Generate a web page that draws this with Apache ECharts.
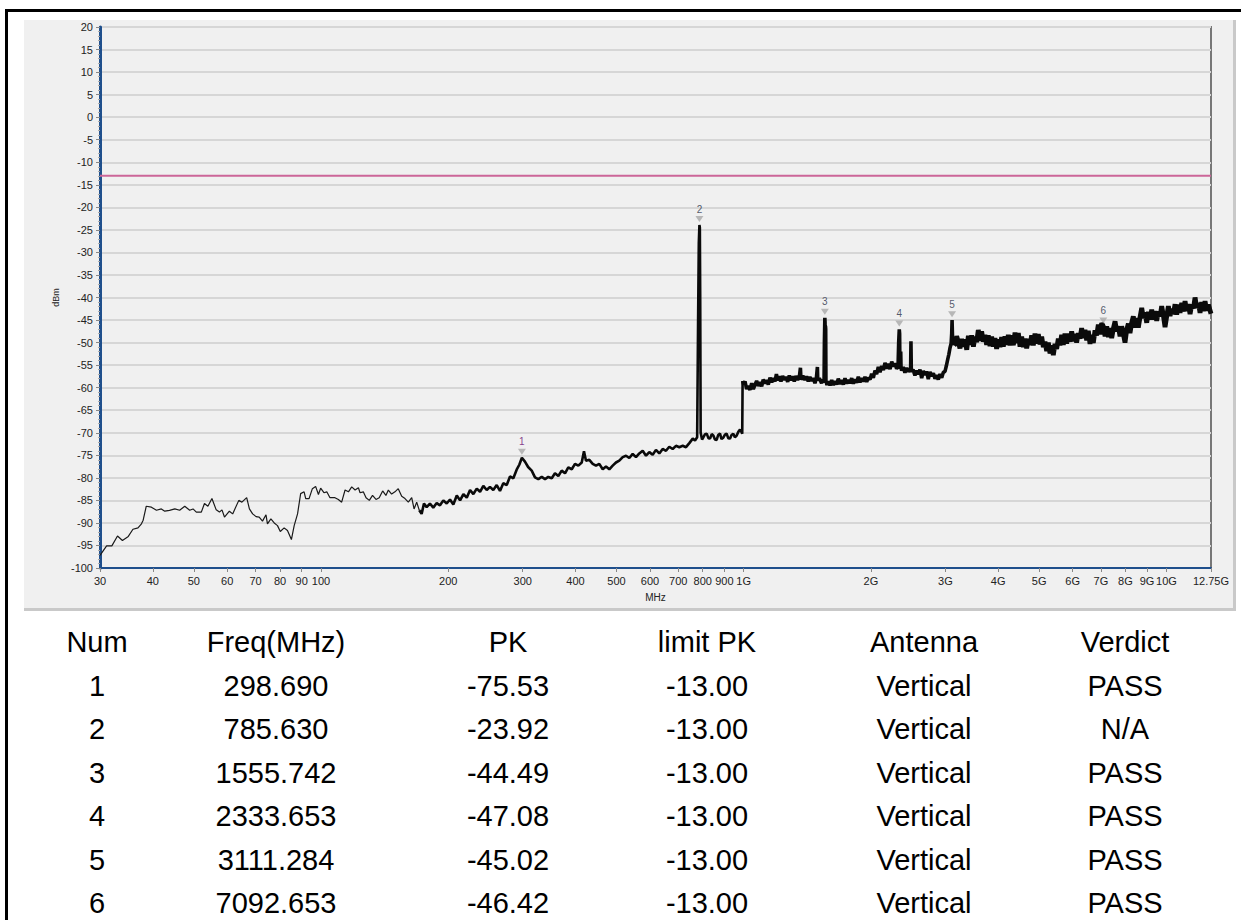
<!DOCTYPE html>
<html>
<head>
<meta charset="utf-8">
<script src="https://cdn.jsdelivr.net/npm/echarts@6/dist/echarts.min.js"></script>
<style>
html,body{margin:0;padding:0;background:#fff;width:1241px;height:920px;overflow:hidden;}
#frame{position:absolute;left:5px;top:9px;width:1300px;height:1000px;border:3px solid #000;box-sizing:border-box;}
#panel{position:absolute;left:24px;top:20px;width:1209px;height:588px;background:#f0f0f0;border-right:3px solid #c9c9c9;border-bottom:3px solid #c9c9c9;box-sizing:content-box;}
#chart{position:absolute;left:0;top:0;width:1241px;height:920px;}
</style>
</head>
<body>
<div id="frame"></div>
<div id="panel"></div>
<div id="chart"></div>
<script>
// ---- axis ticks ----
const xTickValues = [30,40,50,60,70,80,90,100,200,300,400,500,600,700,800,900,1000,2000,3000,4000,5000,6000,7000,8000,9000,10000,12750];
const xTickLabels = ['30','40','50','60','70','80','90','100','200','300','400','500','600','700','800','900','1G','2G','3G','4G','5G','6G','7G','8G','9G','10G','12.75G'];
const yMin = -100, yMax = 20, yStep = 5;
const limitLevel = -13;

// ---- measured trace (MHz, dBm) ----
const traceLowBand = [
[30,-97.2],[31.1,-95.1],[32,-95.1],[33,-92.9],[33.9,-93.9],[35,-93.0],[35.9,-91.4],[36.9,-91.1],[37.6,-90.2],[37.95,-89.4],
[38.6,-86.3],[39.7,-86.5],[40.8,-87.2],[41.9,-86.9],[42.7,-87.4],[43.8,-87.2],[45.1,-86.9],[46.3,-87.2],[47.6,-86.3],[48.9,-87.2],
[49.8,-86.9],[50.7,-87.6],[52.1,-87.6],[53,-85.7],[54,-86.3],[55.2,-84.6],[56.5,-87.1],[57.5,-87.6],[58.3,-87.1],[59.1,-88.7],
[60.7,-87.4],[61.8,-88.0],[63.9,-85.0],[65,-85.4],[66.7,-84.4],[67.7,-86.9],[68.9,-88.0],[70.2,-88.6],[71.4,-88.7],[72.7,-89.6],
[74.1,-88.2],[74.7,-90.2],[76.1,-89.1],[77.5,-90.0],[78.9,-90.6],[80.1,-91.9],[81.8,-91.1],[83.3,-91.7],[85.1,-93.7],[86.4,-90.6],
[88,-88.0],[89.5,-83.5],[91.2,-83.1],[92,-84.6],[93.7,-84.6],[95.4,-82.4],[97.1,-81.9],[98.6,-83.7],[99.8,-82.3],[101.6,-83.3],
[103.2,-83.1],[105,-84.4],[107.9,-84.4],[109.9,-84.8],[111.9,-85.4],[114,-82.7],[116.1,-83.1],[118.2,-82.0],[120.4,-82.7],[122.6,-82.2],
[123.7,-83.3],[125.9,-83.1],[127.8,-84.4],[130.1,-85.0],[132.4,-83.9],[134.9,-84.8],[137.3,-84.4],[139.9,-82.9],[142.4,-83.9],[144.3,-82.7],
[146.9,-83.6],[149.6,-83.1],[152.3,-82.4],[155.2,-84.1],[158,-84.6],[160.9,-85.4],[163.9,-84.4],[166,-86.9],[168.4,-85.4],[170.8,-87.2]
];
const traceMidBand = [
[170.8,-87.2],[173,-88.0],[175.2,-85.7],[177.8,-86.5],[181,-85.7],[184.3,-86.6],[187.8,-85.6],[191.2,-86.1],[194.7,-85.0],[198.3,-85.7],
[201.9,-84.8],[205.6,-85.9],[209.5,-83.9],[213.3,-85.0],[217.2,-83.6],[221.2,-84.4],[225.2,-82.7],[229.3,-83.6],[233.6,-82.4],[237.8,-83.1],
[242.1,-81.8],[246.6,-82.7],[251,-82.0],[255.6,-82.7],[260.4,-81.6],[265.1,-82.9],[269.9,-81.2],[275,-81.6],[280,-79.7],[285.1,-80.1],
[290.3,-78.2],[294.5,-77.1],[298.69,-75.53],[303.7,-76.4],[309,-77.6],[315.1,-78.4],[320.8,-79.9],[326.6,-80.3],[332.8,-79.8],[338.8,-80.3],
[344.9,-79.8],[351.4,-80.1],[357.7,-79.0],[364.3,-79.6],[371,-78.4],[377.8,-79.0],[384.6,-77.7],[391.9,-78.1],[398.9,-76.9],[406.2,-77.3],
[413.8,-76.6],[418.9,-74.1],[423.5,-76.2],[431.3,-76.0],[439.3,-76.9],[447.2,-77.3],[455.3,-76.9],[463.9,-78.1],[472.3,-77.5],[480.9,-78.1],
[489.8,-77.3],[498.7,-76.6],[507.7,-76.2],[517.3,-75.4],[526.7,-75.1],[536.2,-75.6],[546.2,-74.7],[556.1,-75.4],[566.2,-74.6],[576.8,-74.0],
[587.3,-75.1],[597.9,-74.3],[609,-74.9],[620,-73.8],[631.4,-74.6],[643.1,-73.6],[654.8,-74.0],[666.7,-73.1],[679.1,-73.6],[691.5,-72.9],
[704.1,-73.2],[717.3,-72.9],[730.2,-73.2],[743.6,-72.3],[757.6,-71.3],[767.1,-71.7],[776,-71.0],[780,-45],[783,-28],[785.63,-23.92],
[787.5,-24.5],[789,-40],[791,-70.0],[797,-71.5],[802.9,-71.0],[809,-70.4],[817.6,-70.2],[825,-71.2],[832.5,-71.3],[840,-70.3],
[847.6,-70.6],[855,-71.5],[863.2,-71.6],[870,-70.5],[878.9,-70.2],[886,-71.4],[894.8,-71.1],[903,-70.4],[911.3,-70.2],[919,-71.2],
[927.8,-71.3],[936,-70.5],[944.9,-70.2],[953,-71.0],[962.5,-70.6],[971,-69.8],[980,-69.3],[989,-69.9],[992,-70.2],[994,-58.5]
];
const traceGigBand = [
[994,-58.5],
[1000,-59.3],[1007,-58.6],[1016,-60.3],[1025,-59.6],[1035,-60.5],[1044.5,-59.0],[1054,-60.3],[1063,-59.4],[1073,-58.5],[1082.7,-59.6],
[1093,-58.8],[1102.8,-59.7],[1112,-58.2],[1122.8,-59.1],[1133,-58.3],[1143.3,-59.3],[1154,-57.8],[1164.7,-58.8],[1175,-57.9],[1185.9,-58.6],
[1195,-57.0],[1203.2,-58.4],[1214,-57.5],[1224.9,-58.6],[1236,-57.4],[1247.5,-58.3],[1259,-57.6],[1270.7,-58.7],[1282,-57.3],[1293.6,-58.4],
[1305,-57.5],[1317.1,-58.6],[1329,-57.4],[1341.7,-58.3],[1354,-57.6],[1362,-55.6],[1366,-58.2],[1380,-57.4],[1395.9,-58.3],[1408,-57.5],
[1421.4,-58.6],[1434,-57.6],[1447.8,-58.5],[1460,-57.9],[1474,-59.0],[1485,-58.0],[1494,-55.4],[1497,-58.4],[1510,-57.9],[1528.4,-59.0],
[1540,-58.2],[1549,-58.9],[1552,-50],[1555.742,-44.49],[1557.5,-45.5],[1559,-57],[1561,-46.3],[1563,-47],[1565,-58.5],[1574,-59.4],
[1585,-58.6],[1600,-59.5],[1614.9,-58.3],[1629,-59.4],[1644.2,-58.6],[1659,-59.3],[1674,-58.0],[1690,-59.2],[1705.5,-58.3],[1721,-59.3],
[1736.3,-57.9],[1752,-59.1],[1767.9,-58.3],[1784,-59.0],[1800.8,-57.9],[1817,-59.1],[1833.4,-58.2],[1850,-58.9],[1866.9,-57.6],[1884,-58.8],
[1901.6,-57.9],[1919,-58.6],[1936.1,-57.6],[1954,-58.7],[1971.2,-57.8],[1990,-58.2],[2007.8,-56.9],[2026,-57.8],[2044.7,-56.2],[2063,-57.0],
[2081.8,-55.4],[2101,-56.6],[2120.6,-55.2],[2140,-56.1],[2159,-54.5],[2179,-55.8],[2198.2,-54.7],[2219,-55.9],[2239.5,-54.2],[2260,-55.3],
[2280.2,-54.6],[2300,-55.8],[2318,-55.4],[2326,-50],[2333.653,-47.08],[2338,-48],[2342,-55.8],[2348,-54.5],[2352,-52.0],[2356,-55.6],
[2363.4,-56.2],[2385,-55.4],[2406.9,-56.7],[2428,-55.6],[2450.6,-56.5],[2470,-55.7],[2482,-56.6],[2487,-49.7],[2492,-56.4],[2515,-56.0],
[2541.7,-57.3],[2565,-56.2],[2588.3,-57.0],[2612,-56.0],[2636.5,-57.9],[2660,-56.3],[2684.4,-57.2],[2708,-56.4],[2733.3,-58.1],[2758,-56.5],
[2784.6,-57.4],[2810,-56.8],[2835,-58.0],[2860,-57.2],[2886.4,-58.2],[2913,-57.0],[2940.6,-57.8],[2967,-56.6],[2993.9,-56.4],[3015,-55.2],
[3037.6,-53.8],[3057,-52.6],[3076.3,-51.2],[3095,-50.2],[3105,-48],[3111.284,-45.02],[3116,-47.5],[3122,-50.0],[3132,-49.0],[3146,-50.6]
];
const traceHighBand = [
[3146,-50.6],[3160,-50.4],[3190,-48.6],[3218,-49.8],[3248,-51.3],[3278,-49.2],[3308,-50.9],[3338,-49.3],[3370,-51.6],[3400,-48.5],
[3430,-50.5],[3462,-48.4],[3495,-50.9],[3525,-48.7],[3557,-49.9],[3589,-47.2],[3622,-49.6],[3655,-47.5],[3688,-49.8],[3722,-48.3],
[3756,-50.5],[3790,-48.4],[3825,-50.8],[3860,-48.7],[3895,-50.9],[3930,-49.0],[3966,-51.4],[4002,-49.3],[4040,-51.0],[4076,-48.8],
[4113,-50.9],[4150,-48.6],[4188,-50.5],[4227,-48.3],[4266,-50.6],[4305,-48.4],[4344,-50.6],[4384,-47.8],[4424,-50.1],[4464,-47.9],
[4505,-50.9],[4546,-48.7],[4587,-51.0],[4629,-49.1],[4671,-51.3],[4714,-49.2],[4757,-50.5],[4800,-48.4],[4843,-50.6],[4888,-48.0],
[4932,-50.2],[4977,-48.1],[5023,-50.4],[5069,-48.7],[5115,-51.0],[5162,-49.8],[5209,-51.9],[5256,-50.0],[5304,-52.4],[5353,-50.6],
[5401,-52.8],[5450,-50.3],[5500,-51.4],[5550,-49.1],[5601,-50.6],[5652,-48.3],[5703,-50.5],[5755,-48.0],[5808,-50.2],[5861,-48.0],
[5915,-49.8],[5969,-47.5],[6022,-49.7],[6077,-48.1],[6132,-50.0],[6188,-47.9],[6245,-49.1],[6302,-46.8],[6360,-49.0],[6418,-47.2],
[6477,-49.5],[6536,-47.4],[6596,-50.3],[6656,-48.3],[6716,-50.1],[6778,-47.3],[6840,-48.4],[6901,-46.0],[6965,-48.2],[7028,-45.7],
[7092.653,-46.42],[7160,-48.6],[7224,-46.4],[7290,-48.8],[7357,-46.8],[7423,-49.0],[7490,-46.9],[7560,-45.3],[7628,-47.5],[7698,-46.4],
[7768,-48.6],[7839,-46.4],[7910,-48.1],[7981,-50.0],[8054,-47.2],[8127,-45.8],[8201,-47.9],[8276,-45.6],[8351,-44.2],[8428,-46.7],
[8504,-44.6],[8581,-46.7],[8660,-44.4],[8742,-42.3],[8820,-44.6],[8900,-43.3],[8983,-45.6],[9066,-43.2],[9148,-44.9],[9231,-42.7],
[9315,-44.9],[9400,-43.0],[9485,-45.2],[9572,-43.1],[9660,-44.2],[9747,-41.9],[9836,-44.0],[9926,-46.6],[10017,-44.2],[10108,-41.9],
[10200,-44.1],[10294,-42.5],[10388,-43.7],[10482,-41.5],[10578,-43.8],[10674,-41.6],[10772,-43.4],[10870,-41.2],[10970,-43.1],[11069,-40.8],
[11170,-43.0],[11272,-41.5],[11375,-43.7],[11480,-41.6],[11585,-42.4],[11689,-40.0],[11796,-42.3],[11904,-41.2],[12012,-43.4],[12120,-41.0],
[12231,-43.0],[12343,-40.8],[12455,-42.9],[12570,-41.6],[12750,-43.6]
];

// ---- marker table ----
const tableHeader = ['Num','Freq(MHz)','PK','limit PK','Antenna','Verdict'];
const markerNum = [1,2,3,4,5,6];
const markerFreq = [298.690,785.630,1555.742,2333.653,3111.284,7092.653];
const markerPK = [-75.53,-23.92,-44.49,-47.08,-45.02,-46.42];
const markerLimit = [-13.00,-13.00,-13.00,-13.00,-13.00,-13.00];
const markerAntenna = ['Vertical','Vertical','Vertical','Vertical','Vertical','Vertical'];
const markerVerdict = ['PASS','N/A','PASS','PASS','PASS','PASS'];

const chart = echarts.init(document.getElementById('chart'), null, {renderer:'svg'});
const FONT = '"Liberation Sans", Arial, sans-serif';

function xLabel(v){
  for (let i=0;i<xTickValues.length;i++){ if (Math.abs(xTickValues[i]-v) < 1e-6*xTickValues[i]) return xTickLabels[i]; }
  return '';
}

// table graphics
const colX = [97, 276, 508, 707, 924, 1125];
const rowY0 = 642, rowDY = 43.5;
const TFONT = '29px ' + FONT;
const tableTexts = [];
tableHeader.forEach((h,c)=>tableTexts.push({type:'text', x:colX[c], y:rowY0, style:{text:h, font:TFONT, fill:'#000', align:'center', verticalAlign:'middle'}}));
markerNum.forEach((n,r)=>{
  const row = [String(n), markerFreq[r].toFixed(3), markerPK[r].toFixed(2), markerLimit[r].toFixed(2), markerAntenna[r], markerVerdict[r]];
  row.forEach((t,c)=>tableTexts.push({type:'text', x:colX[c], y:rowY0+rowDY*(r+1), style:{text:t, font:TFONT, fill:'#000', align:'center', verticalAlign:'middle'}}));
});

const markerColors = ['#6a0a70','#2a3048','#2a3048','#2a3048','#2a3048','#2a3048'];

chart.setOption({
  animation:false,
  backgroundColor:'transparent',
  grid:{left:100, right:30, top:27, bottom:352, show:true, borderColor:'#777', borderWidth:2, backgroundColor:'#f0f0f0'},
  xAxis:{
    type:'log', logBase:10, min:30, max:12750,
    name:'MHz', nameLocation:'middle', nameGap:24,
    nameTextStyle:{fontFamily:FONT, fontSize:10, color:'#222'},
    axisLine:{show:true, onZero:false, lineStyle:{color:'#1f4f8c', width:2}},
    axisTick:{show:true, length:4, customValues:xTickValues, lineStyle:{color:'#888'}},
    axisLabel:{customValues:xTickValues, formatter:xLabel, fontFamily:FONT, fontSize:11, color:'#222', margin:7},
    splitLine:{show:false}, minorTick:{show:false}, minorSplitLine:{show:false}
  },
  yAxis:{
    type:'value', min:yMin, max:yMax, interval:yStep,
    name:'dBm', nameLocation:'middle', nameGap:34,
    nameTextStyle:{fontFamily:FONT, fontSize:9, color:'#222'},
    axisLine:{show:true, onZero:false, lineStyle:{color:'#1f4f8c', width:3}},
    axisTick:{show:true, length:4, lineStyle:{color:'#888'}},
    minorTick:{show:true, splitNumber:5, length:2, lineStyle:{color:'#aaa'}},
    axisLabel:{fontFamily:FONT, fontSize:11, color:'#222', margin:7},
    splitLine:{show:true, lineStyle:{color:'#d6d6d6', width:2}}
  },
  graphic: tableTexts,
  series:[
    {type:'line', name:'limit', data:[[30,limitLevel],[12750,limitLevel]], symbol:'none', lineStyle:{color:'#cc6699', width:2}, z:3},
    {type:'line', name:'trace low', data:traceLowBand, symbol:'none', lineStyle:{color:'#1a1a1a', width:1.2}, z:4},
    {type:'line', name:'trace mid', data:traceMidBand, symbol:'none', lineStyle:{color:'#0a0a0a', width:2.6}, z:4},
    {type:'line', name:'trace gig', data:traceGigBand, symbol:'none', lineStyle:{color:'#0a0a0a', width:3.6}, z:4},
    {type:'line', name:'trace high', data:traceHighBand, symbol:'none', lineStyle:{color:'#0a0a0a', width:4.8}, z:4},
    {type:'scatter', name:'markers', z:5,
     data: markerFreq.map((f,i)=>({value:[f, markerPK[i]], label:{color:markerColors[i]}})),
     symbol:'triangle', symbolRotate:180, symbolSize:[8,6], symbolOffset:[0,-6],
     itemStyle:{color:'#a9a9a9'},
     label:{show:true, position:'top', distance:2, fontFamily:FONT, fontSize:10,
            formatter:(p)=>String(markerNum[p.dataIndex])}}
  ]
});
</script>
</body>
</html>
